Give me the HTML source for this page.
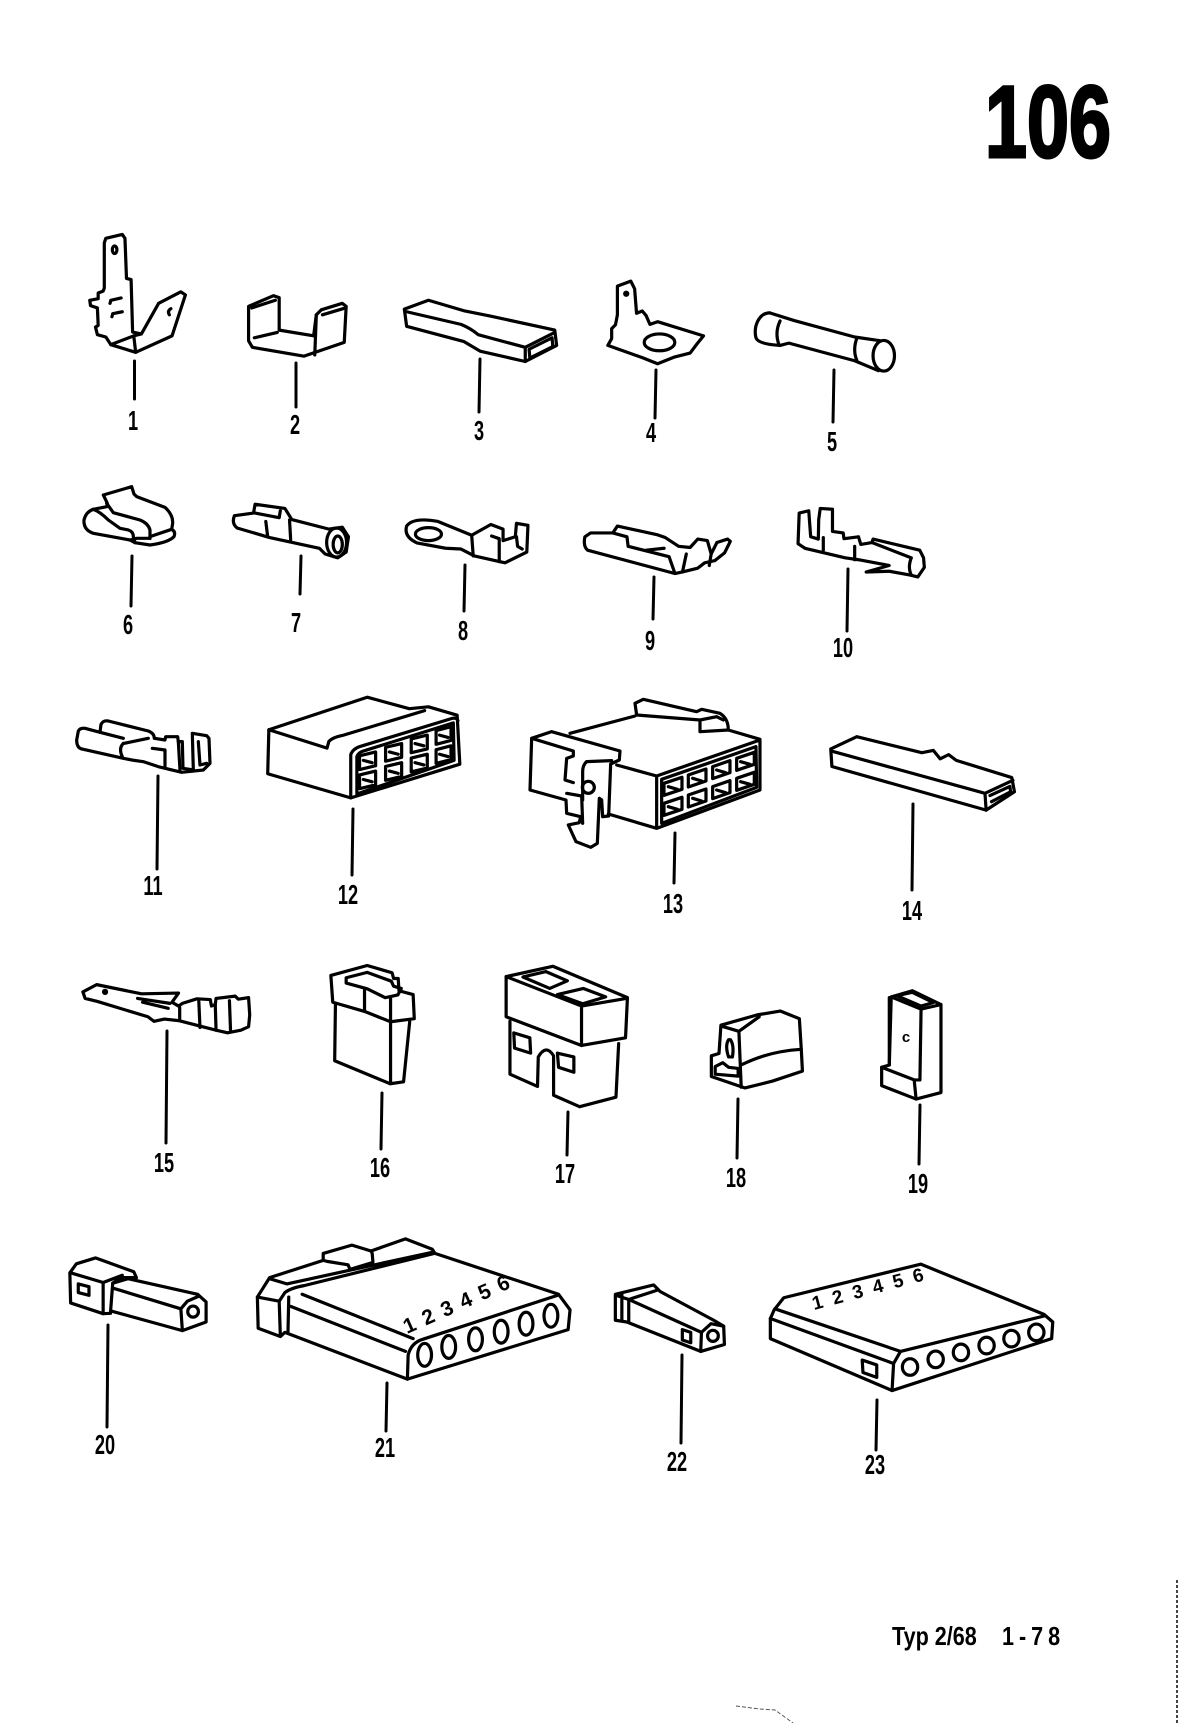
<!DOCTYPE html>
<html><head><meta charset="utf-8"><style>
html,body{margin:0;padding:0;background:#fff;}
svg{display:block;}
.d path,.d ellipse,.d circle,.d line,.d polygon{vector-effect:non-scaling-stroke;stroke:#000;stroke-width:3.2;fill:none;stroke-linejoin:round;stroke-linecap:round;}
.d .f{fill:#000;}
.ld line{stroke:#000;stroke-width:3;stroke-linecap:round;}
.lb text{font-family:"Liberation Sans",sans-serif;font-weight:bold;font-size:28px;fill:#000;text-anchor:middle;}
</style></head><body>
<svg width="1179" height="1723" viewBox="0 0 1179 1723" xmlns="http://www.w3.org/2000/svg">
<rect width="1179" height="1723" fill="#fff"/>

<!-- Group A: items 1,2,3,7,8 -->
<g class="d" transform="translate(40,200) scale(0.3827)">
 <!-- 1 -->
 <path d="M172,100 L215,90 L222,100 L226,205 L238,208 L242,345 L265,350 L310,270 L368,240 L380,248 L345,355 L250,398 L185,378 L172,358 L150,352 L145,332 L152,328 L150,282 L132,276 L130,262 L152,258 L152,243 L165,238 L168,230 L168,112 Z"/>
 <ellipse cx="195" cy="130" rx="6" ry="10"/>
 <path d="M342,284 Q332,290 338,300"/>
 <path d="M185,378 L245,355 L265,350 M245,355 L250,398"/>
 <path d="M183,270 L185,262 L212,256 M188,305 L190,297 L215,292"/>
 <!-- 2 -->
 <path d="M545,278 L610,250 L625,255 L625,340 L715,355 L722,300 L735,287 L790,270 L800,278 L795,372 L690,408 L555,385 L545,368 Z"/>
 <path d="M553,282 L615,262 M560,360 L620,346 M722,300 L718,405 M738,300 L795,283"/>
 <!-- 3 -->
 <path d="M952,285 L1015,262 L1110,290 L1175,303 L1345,340 L1350,380 L1268,422 L1150,395 L1108,370 L958,330 Z"/>
 <path d="M958,292 L1100,325 Q1125,335 1145,352 L1268,385 L1345,346 M1268,385 L1268,422"/>
 <path d="M1278,390 L1338,360 L1340,383 L1280,413 Z"/>
 <!-- 7 -->
 <path d="M508,825 L558,818 L562,795 L640,806 L658,835 L755,860 L790,855 L806,880 L800,920 L778,935 L745,925 L730,910 L600,882 L515,857 Q500,845 508,825 Z"/>
 <path d="M590,840 L595,880 M652,836 L655,888 M562,818 L625,830 L628,812"/>
 <ellipse cx="775" cy="895" rx="26" ry="38"/>
 <ellipse cx="778" cy="900" rx="12" ry="22"/>
 <!-- 8 -->
 <path d="M958,852 Q975,828 1040,840 L1128,876 L1178,848 L1210,860 L1210,890 L1242,880 L1245,845 L1275,850 L1272,920 L1215,948 L1135,930 L1100,912 L1060,910 L985,896 Q950,880 958,852 Z"/>
 <ellipse cx="1015" cy="873" rx="34" ry="17"/>
 <path d="M1128,876 L1132,930 M1180,878 L1200,885 L1200,945 M1245,880 L1248,905 L1260,912"/>
</g>

<!-- item 6 -->
<g class="d" transform="translate(70,470) scale(0.3333)">
 <path d="M100,75 L185,50 L192,72 L200,80 L285,112 Q310,135 308,160 L305,178 Q318,185 312,200 Q295,218 240,225 L195,218 L180,210 L70,190 Q40,180 42,150 Q48,125 70,118 L110,110 L112,100 Z"/>
 <path d="M110,100 L130,128 L210,150 Q235,160 240,180 L240,205"/>
 <path d="M70,118 Q90,125 115,150 L150,175 L175,180 Q190,185 190,200 L195,218"/>
 <path d="M240,200 L305,178 M180,210 L200,205 L240,205"/>
</g>

<!-- item 11 -->
<g class="d" transform="translate(65,695) scale(0.3333)">
 <path d="M40,108 Q45,98 60,100 L105,112 L108,88 Q115,75 130,78 L250,108 Q268,115 268,130 L300,135 L302,125 L338,125 L340,140 L352,140 L354,220 L385,225 L382,115 L425,122 L432,130 L435,205 L415,225 L350,232 L280,215 L235,200 L200,195 L175,190 L50,162 Q35,158 35,135 Z"/>
 <path d="M105,112 L175,130 M175,145 Q160,160 172,185 M178,145 L250,130 M262,160 L300,165 L300,215 M340,140 L345,225 M400,140 L405,210 L425,205"/>
</g>

<!-- Group B: items 4,5,9,10 -->
<g class="d" transform="translate(560,200) scale(0.3827)">
 <!-- 4 -->
 <path d="M150,225 L185,212 L195,232 L200,296 L215,290 L225,302 L235,325 L255,318 L375,355 L358,376 L340,400 L300,410 L255,428 L215,412 L125,380 L135,362 L135,336 L145,326 L150,300 Z"/>
 <ellipse cx="260" cy="372" rx="40" ry="22"/>
 <circle class="f" cx="173" cy="245" r="4"/>
 <!-- 5 -->
 <path d="M548,295 C520,295 505,330 512,360 C516,372 540,378 575,380 L598,374 L770,420 L832,446"/>
 <path d="M548,295 L612,315 L770,358 L838,368"/>
 <ellipse cx="846" cy="407" rx="28" ry="40"/>
 <path d="M575,316 Q560,348 573,380 M776,360 Q764,392 776,420"/>
 <!-- 9 -->
 <path d="M65,880 L80,870 L138,870 L150,852 L255,875 L275,882 L310,905 L340,908 L360,886 L385,890 L395,925 L410,895 L438,886 L445,892 L430,922 L405,942 L378,948 L360,962 L320,972 L300,976 L72,915 Q60,905 65,880 Z"/>
 <path d="M178,905 L285,932 L300,975 M138,870 L175,880 L178,905 M225,915 L272,910 M330,925 L320,972 M395,925 L390,955"/>
 <!-- 10 -->
 <path d="M625,818 L650,812 L655,880 L675,886 L676,835 L680,806 L712,808 L712,866 L740,870 L742,885 L780,880 L786,900 L815,895 L818,886 L940,915 L950,935 L952,960 L935,985 L915,980 L860,970 L800,972 L860,955 L780,940 L745,935 L640,910 L622,898 Z"/>
 <path d="M918,935 Q908,960 918,980 M688,882 L688,915 M770,905 L770,940 M815,895 L918,935"/>
</g>

<!-- Group C: items 12,15,16,17 -->
<g class="d" transform="translate(40,680) scale(0.3827)">
 <!-- 12 -->
 <path d="M598,130 L855,45 L965,75 L1015,70 L1090,92 L1097,220 L812,308 L595,245 Z"/>
 <path d="M598,130 L750,178 L755,160 Q765,150 790,145 L1005,80"/>
 <path d="M812,308 L812,195 Q818,178 842,172 L1078,100 Q1090,98 1092,106"/>
 <path d="M828,298 L828,200 Q832,188 850,184 L1080,112 L1082,210 Z"/>
 <path d="M835,198 L877,188 L877,224 L835,234 Z M903,176 L945,166 L945,202 L903,212 Z M970,154 L1012,144 L1012,180 L970,190 Z M1035,132 L1074,122 L1074,158 L1035,168 Z"/>
 <path d="M835,248 L877,238 L877,274 L835,284 Z M903,226 L945,216 L945,252 L903,262 Z M970,204 L1012,194 L1012,230 L970,240 Z M1035,182 L1074,172 L1074,208 L1035,218 Z"/>
 <path d="M845,210 L868,216 M913,188 L936,194 M980,166 L1003,172 M1044,144 L1066,150 M845,260 L868,266 M913,238 L936,244 M980,216 L1003,222 M1044,194 L1066,200"/>
 <!-- 15 -->
 <path d="M112,815 L148,796 L265,820 L362,818 L345,842 L362,852 L372,845 L410,833 L445,835 L448,852 L458,848 L460,832 L510,826 L518,834 L545,830 L548,875 L545,906 L525,915 L490,922 L460,915 L362,890 L325,886 L298,892 L282,880 L150,840 L118,832 Z"/>
 <path d="M255,832 L340,845 M268,842 L335,858 M365,856 L365,890 M415,840 L418,908 M458,848 L460,915 M495,838 L498,920"/>
 <circle class="f" cx="170" cy="815" r="4"/>
 <!-- 16 -->
 <path d="M760,772 L855,746 L920,765 L924,780 L936,780 L938,812 L975,822 L978,885 L916,893 L848,866 L765,842 Z"/>
 <path d="M800,778 L855,764 L918,787 L924,800 L944,806 L935,823 L902,830 L855,807 L800,792 Z M848,808 L848,866 M916,830 L916,893"/>
 <path d="M772,846 L770,995 L915,1055 L950,1050 L966,893 M916,893 L916,1055"/>
 <!-- 17 -->
 <path d="M1218,775 L1340,748 L1535,830 L1530,935 L1415,955 L1218,880 Z"/>
 <path d="M1218,775 L1415,852 L1532,832 M1415,852 L1415,955"/>
 <path d="M1262,776 L1322,762 L1378,786 L1332,806 Z M1352,822 L1420,806 L1478,828 L1418,846 Z"/>
 <path d="M1228,892 L1228,1030 L1300,1062 L1302,985 Q1322,950 1342,982 L1342,1085 L1410,1115 L1505,1090 L1512,950"/>
 <path d="M1238,922 L1280,935 L1282,975 L1240,962 Z M1352,975 L1395,985 L1395,1025 L1355,1012 Z"/>
</g>

<!-- item 13 -->
<g class="d" transform="translate(520,690) scale(0.3333)">
 <path d="M345,40 L370,28 L530,65 L545,58 L600,70 Q625,85 625,120 L540,125 L540,90 L350,75 Z M540,90 L590,80 L610,90"/>
 <path d="M150,130 L345,78 M625,120 L720,148 L720,300 L410,415 L265,372 M290,225 L410,258 L720,150 M410,258 L410,415"/>
 <path d="M425,268 L708,170 L710,292 L425,400 Z"/>
 <path d="M432,280 L486,262 L486,298 L432,316 Z M505,255 L558,237 L558,273 L505,291 Z M578,230 L630,212 L630,248 L578,266 Z M650,205 L703,187 L703,223 L650,241 Z"/>
 <path d="M432,340 L486,322 L486,358 L432,376 Z M505,315 L558,297 L558,333 L505,351 Z M578,290 L630,272 L630,308 L578,326 Z M650,265 L703,247 L703,283 L650,301 Z"/>
 <path d="M445,290 L472,298 M518,265 L545,273 M590,240 L617,248 M662,215 L690,223 M445,350 L472,358 M518,325 L545,333 M590,300 L617,308 M662,275 L690,283"/>
 <path d="M35,145 L95,125 L300,183 L298,210 L272,222 L266,378 L248,380 L245,330 L238,325 L232,460 L212,472 L168,455 L145,405 L178,398 L182,380 L140,370 L138,330 L30,300 Z"/>
 <path d="M35,145 L160,183 L160,198 L140,205 L135,270 L160,278 M200,215 Q188,225 188,245 L188,300 M200,215 L275,212 M140,310 L185,318 L188,400 M188,300 L188,330"/>
 <circle cx="205" cy="292" r="18"/>
</g>

<!-- Group D: items 14,18,19 -->
<g class="d" transform="translate(520,680) scale(0.3827)">
 <!-- 14 -->
 <path d="M812,180 L880,148 L1050,190 L1080,184 L1098,206 L1120,195 L1140,210 L1285,255 L1292,292 L1218,340 L815,226 Z"/>
 <path d="M815,186 L1215,296 L1288,262 M1215,296 L1218,340 M1228,302 L1280,278 L1282,292 L1232,318"/>
 <!-- 18 -->
 <path d="M525,902 L620,875 L680,865 L730,885 L735,965 L738,1022 L660,1048 L588,1066 L500,1036 L500,982 L520,976 Z"/>
 <path d="M528,905 L572,918 L625,880 M572,918 L578,1064 M580,1005 Q650,970 735,965"/>
 <path d="M545,940 Q535,955 545,985 L555,985 Q560,955 550,940 Z M510,1010 L530,1000 L545,1012 L570,1015 L570,1035 L510,1030 Z"/>
 <!-- 19 -->
 <path d="M970,828 L1025,812 L1100,848 L1100,1078 L1035,1095 L945,1060 L945,1012 L965,1006 Z"/>
 <path d="M970,828 L1048,860 L1100,848 M1048,860 L1045,1045 M945,1012 L1030,1045 L1035,1095 M1030,1045 L1045,1045 M965,1006 L965,830"/>
 <path d="M985,825 L1025,816 L1080,843 L1048,852 Z"/>
</g>
<text x="906" y="1042" font-family="Liberation Sans,sans-serif" font-weight="bold" font-size="15" text-anchor="middle">c</text>

<!-- Group E: items 20,21 -->
<g class="d" transform="translate(40,1180) scale(0.3827,0.3463)">
 <path d="M95,242 L145,225 L245,265 L252,282 L210,282 L190,298 L184,385 L165,386 L80,355 L78,268 Z"/>
 <path d="M80,268 L165,296 L215,275 M165,296 L165,386 M100,300 L128,308 L128,333 L100,325 Z"/>
 <path d="M190,298 L230,285 L412,330 L434,352 L434,410 L372,435 L185,378 M190,312 L368,372 L372,435 M368,372 L385,350 L414,336"/>
 <ellipse cx="400" cy="380" rx="14" ry="16"/>
 <!-- 21 -->
 <path d="M600,282 L740,232 L740,212 L815,188 L865,205 L955,170 L1025,200 L1032,212 L1355,330 L1385,375 L1380,432 L960,575 L640,440 L628,452 L570,428 L568,338 Z"/>
 <path d="M740,232 L750,235 L805,245 L810,258 L870,238 L868,212 M865,205 L868,212"/>
 <path d="M600,285 L645,300 L1028,208 M568,338 L625,350 L640,325 Q655,312 690,305 L1030,212 M625,350 L628,450 M650,338 L648,438 M655,365 L955,495 M685,330 L975,458"/>
 <path d="M960,575 L962,505 Q970,470 1000,460 L1355,332"/>
 <ellipse cx="1005" cy="505" rx="18" ry="33"/>
 <ellipse cx="1068" cy="482" rx="18" ry="33"/>
 <ellipse cx="1138" cy="460" rx="18" ry="33"/>
 <ellipse cx="1205" cy="438" rx="18" ry="33"/>
 <ellipse cx="1270" cy="415" rx="18" ry="33"/>
 <ellipse cx="1335" cy="392" rx="18" ry="33"/>
</g>
<text transform="translate(407,1334) rotate(-24)" font-family="Liberation Sans,sans-serif" font-weight="bold" font-size="21" letter-spacing="1.5">1 2 3 4 5 6</text>

<!-- Group F: items 22,23 -->
<g class="d" transform="translate(579,1180) scale(0.3827,0.3463)">
 <path d="M95,330 L195,303 L212,322 L352,405 L378,422 L380,475 L318,495 L125,410 L95,405 Z"/>
 <path d="M102,335 L130,345 L130,410 M130,345 L205,318 M130,345 L320,440 L318,495 M320,440 L345,415 L378,422 M112,330 L112,405"/>
 <ellipse cx="350" cy="450" rx="14" ry="16"/>
 <path d="M270,432 L292,440 L292,470 L270,462 Z"/>
 <!-- 23 -->
 <path d="M510,375 L535,340 L893,243 L1215,388 L1238,410 L1235,458 L818,608 L500,458 L500,400 Z"/>
 <path d="M512,372 L840,495 L1218,392 M500,400 L822,530 M840,495 L822,530 L818,608"/>
 <ellipse cx="865" cy="540" rx="20" ry="24"/>
 <ellipse cx="932" cy="518" rx="20" ry="24"/>
 <ellipse cx="998" cy="498" rx="20" ry="24"/>
 <ellipse cx="1065" cy="478" rx="20" ry="24"/>
 <ellipse cx="1130" cy="458" rx="20" ry="24"/>
 <ellipse cx="1195" cy="440" rx="20" ry="24"/>
 <path d="M740,520 L778,534 L778,570 L742,556 Z"/>
</g>
<text transform="translate(814,1310) rotate(-15)" font-family="Liberation Sans,sans-serif" font-weight="bold" font-size="19" letter-spacing="2.5">1 2 3 4 5 6</text>

<!-- Leader lines -->
<g class="ld">
 <line x1="134.5" y1="361" x2="134.5" y2="399"/>
 <line x1="296" y1="363" x2="296" y2="407"/>
 <line x1="480" y1="359" x2="479" y2="412"/>
 <line x1="656" y1="370" x2="655" y2="418"/>
 <line x1="834" y1="370" x2="833" y2="422"/>
 <line x1="132" y1="556" x2="131" y2="606"/>
 <line x1="301" y1="556" x2="300" y2="594"/>
 <line x1="465" y1="565" x2="464" y2="611"/>
 <line x1="654" y1="577" x2="653" y2="619"/>
 <line x1="848" y1="569" x2="847" y2="631"/>
 <line x1="158" y1="776" x2="157" y2="869"/>
 <line x1="353" y1="809" x2="352" y2="875"/>
 <line x1="675" y1="833" x2="674" y2="883"/>
 <line x1="913" y1="804" x2="912" y2="890"/>
 <line x1="167" y1="1031" x2="166" y2="1143"/>
 <line x1="382" y1="1093" x2="381" y2="1149"/>
 <line x1="568" y1="1112" x2="567" y2="1155"/>
 <line x1="738" y1="1099" x2="737" y2="1158"/>
 <line x1="920" y1="1105" x2="919" y2="1164"/>
 <line x1="108" y1="1325" x2="107" y2="1427"/>
 <line x1="387" y1="1383" x2="386" y2="1431"/>
 <line x1="682" y1="1355" x2="681" y2="1443"/>
 <line x1="877" y1="1400" x2="876" y2="1450"/>
</g>

<!-- Labels -->
<g class="lb">
 <text transform="translate(133,430) scale(0.65 1)">1</text>
 <text transform="translate(295,434) scale(0.65 1)">2</text>
 <text transform="translate(479,440) scale(0.65 1)">3</text>
 <text transform="translate(651,442) scale(0.65 1)">4</text>
 <text transform="translate(832,451) scale(0.65 1)">5</text>
 <text transform="translate(128,634) scale(0.65 1)">6</text>
 <text transform="translate(296,632) scale(0.65 1)">7</text>
 <text transform="translate(463,640) scale(0.65 1)">8</text>
 <text transform="translate(650,650) scale(0.65 1)">9</text>
 <text transform="translate(843,657) scale(0.65 1)">10</text>
 <text transform="translate(153,895) scale(0.65 1)">11</text>
 <text transform="translate(348,904) scale(0.65 1)">12</text>
 <text transform="translate(673,913) scale(0.65 1)">13</text>
 <text transform="translate(912,920) scale(0.65 1)">14</text>
 <text transform="translate(164,1172) scale(0.65 1)">15</text>
 <text transform="translate(380,1177) scale(0.65 1)">16</text>
 <text transform="translate(565,1183) scale(0.65 1)">17</text>
 <text transform="translate(736,1187) scale(0.65 1)">18</text>
 <text transform="translate(918,1193) scale(0.65 1)">19</text>
 <text transform="translate(105,1454) scale(0.65 1)">20</text>
 <text transform="translate(385,1457) scale(0.65 1)">21</text>
 <text transform="translate(677,1471) scale(0.65 1)">22</text>
 <text transform="translate(875,1474) scale(0.65 1)">23</text>
</g>

<!-- Page number -->
<text transform="translate(1048,157) scale(0.74 1)" font-family="Liberation Sans,sans-serif" font-weight="bold" font-size="102" text-anchor="middle" stroke="#000" stroke-width="3">106</text>

<!-- Footer -->
<text transform="translate(892,1645) scale(0.83 1)" font-family="Liberation Sans,sans-serif" font-weight="bold" font-size="26">Typ 2/68</text>
<text transform="translate(1002,1645) scale(0.83 1)" font-family="Liberation Sans,sans-serif" font-weight="bold" font-size="26" letter-spacing="6">1-78</text>

<!-- scan artifacts -->
<path d="M736,1706 L760,1709 L775,1710 L793,1723" stroke="#555" stroke-width="1" fill="none" stroke-dasharray="4 2"/>
<line x1="1177" y1="1580" x2="1177" y2="1723" stroke="#444" stroke-width="2" stroke-dasharray="3 2"/>
</svg>
</body></html>
